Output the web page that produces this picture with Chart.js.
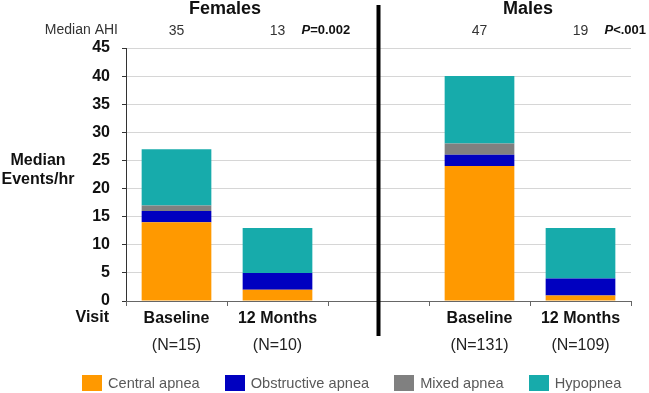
<!DOCTYPE html>
<html>
<head>
<meta charset="utf-8">
<script src="https://cdn.jsdelivr.net/npm/chart.js@4/dist/chart.umd.min.js"></script>
<style>
  html, body { margin: 0; padding: 0; background: #fff; }
  #wrap { position: relative; width: 649px; height: 393px; }
  #legend { position: absolute; left: 82px; top: 375px; display: flex; align-items: center;
            font-family: "Liberation Sans", Arial, sans-serif; font-size: 14.6px; color: #595959; }
  .item { display: flex; align-items: center; margin-right: 25px; }
  .box { width: 20px; height: 16px; margin-right: 6px; }
</style>
</head>
<body>
<div id="wrap">
  <canvas id="c" width="649" height="393"></canvas>
  <div id="legend"></div>
</div>
<script>
// data
const categories = ["Baseline", "12 Months", "", "Baseline", "12 Months"];
const nLabels = ["(N=15)", "(N=10)", "", "(N=131)", "(N=109)"];
const medianAhi = ["35", "13", "", "47", "19"];
const pValues = [null, "=0.002", null, null, "<.001"];
const groupTitles = ["Females", "Males"];

const central = [14, 2, null, 24, 1];
const obstructive = [2, 3, null, 2, 3];
const mixed = [1, 0, null, 2, 0];
const hypopnea = [10, 8, null, 12, 9];

const seriesNames = ["Central apnea", "Obstructive apnea", "Mixed apnea", "Hypopnea"];
const colors = ["#FF9900", "#0000C0", "#808080", "#17ABAB"];

const FONT = '"Liberation Sans", Arial, sans-serif';

const decor = {
  id: "decor",
  afterDraw(chart) {
    const { ctx, chartArea } = chart;
    const x = chart.scales.x;
    ctx.save();
    // divider between the two groups
    const mid = x.getPixelForValue(2);
    ctx.fillStyle = "#000";
    ctx.fillRect(mid - 2, 5, 4, 331);

    // group titles
    ctx.fillStyle = "#111";
    ctx.font = "bold 18px " + FONT;
    ctx.textAlign = "center";
    ctx.textBaseline = "middle";
    ctx.fillText(groupTitles[0], (x.getPixelForValue(0) + x.getPixelForValue(1)) / 2 - 2, 9);
    ctx.fillText(groupTitles[1], (x.getPixelForValue(3) + x.getPixelForValue(4)) / 2 - 2, 9);

    // median AHI row label
    ctx.fillStyle = "#333";
    ctx.font = "14px " + FONT;
    ctx.textAlign = "right";
    ctx.fillText("Median AHI", chartArea.left - 8, 30);

    // p values
    ctx.textAlign = "left";
    pValues.forEach((p, i) => {
      if (!p) return;
      const px = x.getPixelForValue(i) + 24;
      ctx.font = "italic bold 13px " + FONT;
      ctx.fillStyle = "#111";
      ctx.fillText("P", px, 30);
      const w = ctx.measureText("P").width;
      ctx.font = "bold 13px " + FONT;
      ctx.fillText(p, px + w, 30);
    });

    // y title
    ctx.font = "bold 16px " + FONT;
    ctx.textAlign = "center";
    ctx.fillStyle = "#111";
    ctx.fillText("Median", 38, 161);
    ctx.fillText("Events/hr", 38, 180);

    // visit label
    ctx.textAlign = "right";
    ctx.fillText("Visit", 109, 318);
    ctx.restore();
  }
};

new Chart(document.getElementById("c"), {
  type: "bar",
  data: {
    labels: categories,
    datasets: [central, obstructive, mixed, hypopnea].map((d, i) => ({
      label: seriesNames[i],
      data: d,
      backgroundColor: colors[i],
      borderWidth: 0,
      barPercentage: 0.69,
      categoryPercentage: 1.0
    }))
  },
  options: {
    responsive: false,
    animation: false,
    layout: { padding: { top: 18, right: 18, bottom: 32, left: 0 } },
    plugins: { legend: { display: false }, tooltip: { enabled: false } },
    scales: {
      y: {
        stacked: true,
        min: 0, max: 45,
        ticks: { stepSize: 5, padding: 12, color: "#111", font: { family: FONT, size: 16, weight: "bold" } },
        grid: { color: "#d6d6d6", tickColor: "#333", tickLength: 4 },
        border: { color: "#333", width: 1 },
        afterFit: (s) => { s.width = 126; }
      },
      x: {
        stacked: true,
        ticks: { padding: 3, color: "#111", font: { family: FONT, size: 16, weight: "bold" } },
        grid: { offset: true, drawOnChartArea: false, tickLength: 5, tickColor: "#666" },
        border: { color: "#666", width: 1 },
        afterFit: (s) => { s.height = 28; }
      },
      x2: {
        type: "category",
        position: "bottom",
        labels: nLabels,
        ticks: { padding: 7, color: "#222", font: { family: FONT, size: 16 } },
        grid: { display: false, drawTicks: false },
        border: { display: false },
        afterFit: (s) => { s.height = 32; }
      },
      xTop: {
        type: "category",
        position: "top",
        labels: medianAhi,
        ticks: { padding: 8, color: "#333", font: { family: FONT, size: 14 } },
        grid: { display: false, drawTicks: false },
        border: { display: false },
        afterFit: (s) => { s.height = 30; }
      }
    }
  },
  plugins: [decor]
});

// legend
const legend = document.getElementById("legend");
seriesNames.forEach((name, i) => {
  const item = document.createElement("div");
  item.className = "item";
  item.innerHTML = '<div class="box" style="background:' + colors[i] + '"></div><span>' + name + '</span>';
  legend.appendChild(item);
});
</script>
</body>
</html>
